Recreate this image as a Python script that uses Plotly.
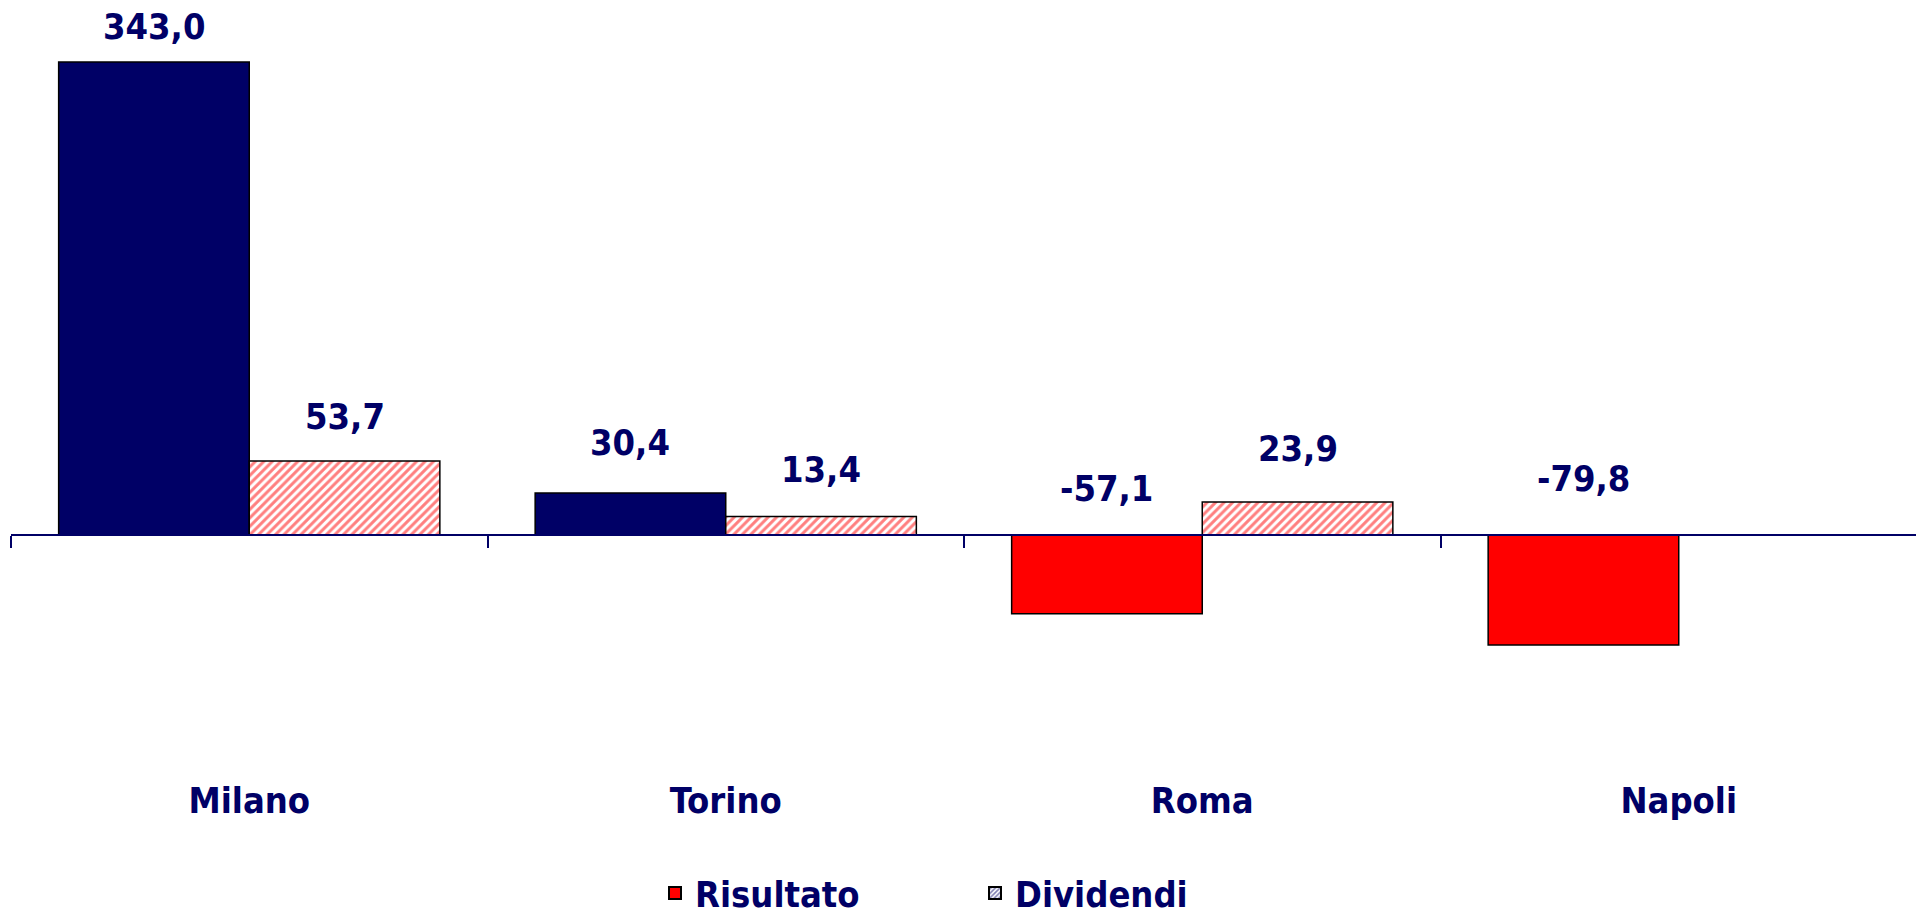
import plotly.graph_objects as go

# data
cities = ["Milano", "Torino", "Roma", "Napoli"]
risultato = [343.0, 30.4, -57.1, -79.8]
dividendi = [53.7, 13.4, 23.9, None]

# small vertical nudges of the value labels (px above bar end / zero line)
nudge_ris = [36, 51, 47, 57]
nudge_div = [44, 47, 54, 0]

NAVY = "#000066"
RED = "#FF0000"
FONT = "Tahoma, 'DejaVu Sans Condensed', 'DejaVu Sans', sans-serif"

# page layout in pixels (the html body adds an 8px margin)
OFF = 8
W, H = 1924 - OFF, 914 - OFF
left_px, right_px = 11, 1917
top_px, bottom_px = 10, 776       # plot area, from top of the page
zero_px = 535                      # where y = 0 sits
px_per_unit = 473 / 343.0          # bar height scale measured on the reference

ymax = (zero_px - top_px) / px_per_unit
ymin = -(bottom_px - zero_px) / px_per_unit
zero_frac = (bottom_px - zero_px) / (bottom_px - top_px)
plot_w = right_px - left_px
plot_h = bottom_px - top_px


def fmt(v):
    return f"{v:.1f}".replace(".", ",")


fig = go.Figure()

fig.add_trace(go.Bar(
    x=cities, y=risultato, name="Risultato",
    width=0.4, offset=-0.4,
    marker=dict(color=[NAVY if v >= 0 else RED for v in risultato],
                line=dict(color="black", width=1.5)),
    showlegend=False, hoverinfo="x+y",
))

fig.add_trace(go.Bar(
    x=cities, y=dividendi, name="Dividendi",
    width=0.4, offset=0.0,
    marker=dict(color="white",
                pattern=dict(shape="/", fgcolor=RED, bgcolor="white", size=6, solidity=0.5),
                line=dict(color="black", width=1.5)),
    showlegend=False, hoverinfo="x+y",
))

# legend-only entries (legend swatches differ from the bars)
fig.add_trace(go.Bar(
    x=[None], y=[None], name="Risultato",
    marker=dict(color=RED, line=dict(color="black", width=2)),
))
fig.add_trace(go.Bar(
    x=[None], y=[None], name="Dividendi",
    marker=dict(color="white",
                pattern=dict(shape="/", fgcolor=NAVY, bgcolor="white", size=4, solidity=0.5),
                line=dict(color="black", width=2)),
))

# zero axis with boundary ticks
fig.add_trace(go.Scatter(x=[], y=[], xaxis="x2", showlegend=False, hoverinfo="skip"))

# value labels
for i, v in enumerate(risultato):
    fig.add_annotation(x=i - 0.2, y=max(v, 0), text=fmt(v), showarrow=False,
                       yanchor="middle", yshift=nudge_ris[i])
for i, v in enumerate(dividendi):
    if v is None:
        continue
    fig.add_annotation(x=i + 0.2, y=max(v, 0), text=fmt(v), showarrow=False,
                       yanchor="middle", yshift=nudge_div[i])

fig.update_annotations(font=dict(family=FONT, size=36, color=NAVY, weight=700), borderpad=0)

fig.update_layout(
    width=W, height=H,
    margin=dict(l=left_px - OFF, r=1924 - right_px, t=top_px - OFF, b=914 - bottom_px,
                autoexpand=False),
    paper_bgcolor="white", plot_bgcolor="white",
    barmode="overlay",
    font=dict(family=FONT, size=36, color=NAVY),
    xaxis=dict(type="category", showline=False, ticks="", showgrid=False,
               tickfont=dict(family=FONT, size=36, color=NAVY, weight=700),
               ticklabelstandoff=0,
               range=[-0.5, 3.5], fixedrange=True, automargin=False),
    xaxis2=dict(overlaying="x", anchor="free", position=zero_frac, side="bottom",
                range=[-0.5, 3.5], tickvals=[-0.5, 0.5, 1.5, 2.5, 3.5],
                ticks="outside", ticklen=12, tickwidth=2, tickcolor=NAVY,
                showline=True, linecolor=NAVY, linewidth=2,
                showticklabels=False, showgrid=False, zeroline=False, automargin=False),
    yaxis=dict(visible=False, range=[ymin, ymax], fixedrange=True),
    legend=dict(orientation="h", x=(655 - left_px) / plot_w, xanchor="left",
                y=-(893 - bottom_px) / plot_h, yanchor="middle",
                font=dict(family=FONT, size=36, color=NAVY, weight=700),
                entrywidth=275, bgcolor="rgba(0,0,0,0)"),
)

fig.write_html("out.html")
